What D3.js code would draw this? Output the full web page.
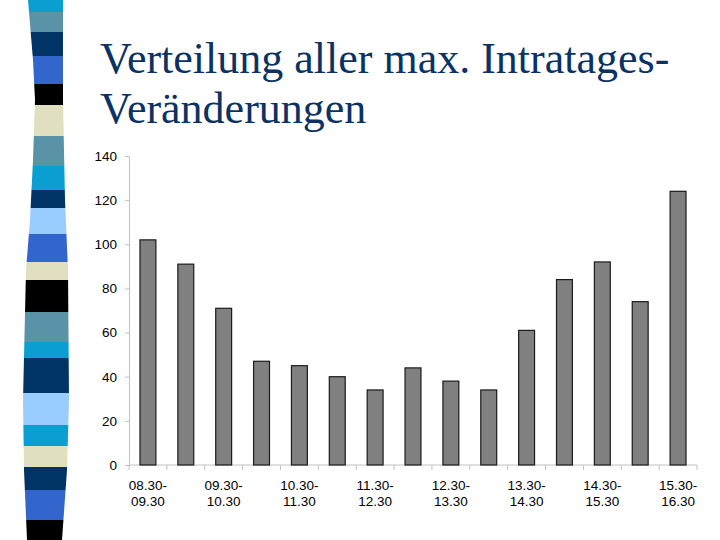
<!DOCTYPE html>
<html>
<head>
<meta charset="utf-8">
<script src="https://cdn.jsdelivr.net/npm/d3@7"></script>
<style>
  html, body { margin: 0; padding: 0; background: #fff; }
  svg { display: block; }
</style>
</head>
<body>
<svg id="chart" width="720" height="540"></svg>
<script>
// ---- data ----
const categories = [
  "08.30-09.30", "09.00-10.00", "09.30-10.30", "10.00-11.00", "10.30-11.30",
  "11.00-12.00", "11.30-12.30", "12.00-13.00", "12.30-13.30", "13.00-14.00",
  "13.30-14.30", "14.00-15.00", "14.30-15.30", "15.00-16.00", "15.30-16.30"
];
const values = [102, 91, 71, 47, 45, 40, 34, 44, 38, 34, 61, 84, 92, 74, 124];
const yTicks = [0, 20, 40, 60, 80, 100, 120, 140];
const titleLines = ["Verteilung aller max. Intratages-", "Veränderungen"];

// decorative strip colours (top to bottom)
const stripColors = ["#0a9fd0", "#5a93a8", "#003366", "#3366cc", "#000000", "#e0dfc0",
  "#5a93a8", "#0a9fd0", "#003366", "#99ccff", "#3366cc", "#e0dfc0", "#000000",
  "#5a93a8", "#0a9fd0", "#003366", "#99ccff", "#0a9fd0", "#e0dfc0", "#003366",
  "#3366cc", "#000000"];
const stripBreaks = [0, 12, 32, 56, 84, 105, 136, 166, 190, 208, 234, 262, 280,
  312, 342, 358, 393, 425, 446, 467, 490, 520, 540];

const svg = d3.select("#chart");

// ---- decorative strip ----
const leftEdge = [[28,0],[33,60],[35,100],[33,160],[30,220],[26,270],[23,400],[24,470],[27,540]];
const rightEdge = [[63,0],[63,100],[65,200],[68,270],[69,400],[67,470],[62,540]];
const outline = leftEdge.concat(rightEdge.slice().reverse());
svg.append("clipPath").attr("id", "stripClip")
  .append("path")
  .attr("d", d3.line().curve(d3.curveLinearClosed)(outline));
svg.append("g").attr("clip-path", "url(#stripClip)")
  .selectAll("rect").data(stripColors).join("rect")
  .attr("x", 0).attr("width", 80)
  .attr("y", (d, i) => stripBreaks[i])
  .attr("height", (d, i) => stripBreaks[i + 1] - stripBreaks[i])
  .attr("fill", d => d);

// ---- title ----
const title = svg.append("text")
  .attr("font-family", "'Liberation Serif', 'Times New Roman', serif")
  .attr("font-size", 44)
  .attr("fill", "#0b3264");
titleLines.forEach((t, i) => {
  title.append("tspan").attr("x", 100).attr("y", 73 + i * 50).text(t);
});

// ---- scales ----
const x = d3.scaleBand().domain(categories).range([129, 697])
  .paddingInner(0.58).paddingOuter(0.29);
const y = d3.scaleLinear().domain([0, 140]).range([465, 156]);

const axisColor = "#c2c2c2";

// y axis
const yAxis = svg.append("g").attr("transform", "translate(129,0)")
  .call(d3.axisLeft(y).tickValues(yTicks).tickSize(4).tickPadding(8));
yAxis.select(".domain").attr("stroke", axisColor);
yAxis.selectAll(".tick line").attr("stroke", axisColor);
yAxis.selectAll(".tick text")
  .attr("font-family", "'Liberation Sans', Arial, sans-serif")
  .attr("font-size", 13.5).attr("fill", "#000");

// x axis baseline
svg.append("line")
  .attr("x1", x.range()[0]).attr("x2", x.range()[1])
  .attr("y1", y(0)).attr("y2", y(0))
  .attr("stroke", axisColor);

// x tick marks at category boundaries
const boundaries = categories.map(c => x(c) + x.bandwidth() / 2 - x.step() / 2)
  .concat([x.range()[1]]);
svg.append("g").selectAll("line").data(boundaries).join("line")
  .attr("x1", d => d).attr("x2", d => d)
  .attr("y1", y(0)).attr("y2", y(0) + 5)
  .attr("stroke", axisColor);

// bars
svg.append("g").selectAll("rect").data(values).join("rect")
  .attr("x", (d, i) => x(categories[i]))
  .attr("width", x.bandwidth())
  .attr("y", d => y(d))
  .attr("height", d => y(0) - y(d))
  .attr("fill", "#808080")
  .attr("stroke", "#1a1a1a")
  .attr("stroke-width", 1.2);

// x labels (every second category)
const xl = svg.append("g")
  .attr("font-family", "'Liberation Sans', Arial, sans-serif")
  .attr("font-size", 13.5).attr("fill", "#000").attr("text-anchor", "middle");
categories.forEach((c, i) => {
  if (i % 2 !== 0) return;
  const parts = c.split("-");
  const cx = x(c) + x.bandwidth() / 2;
  const t = xl.append("text");
  t.append("tspan").attr("x", cx).attr("y", 490).text(parts[0] + "-");
  t.append("tspan").attr("x", cx).attr("y", 506).text(parts[1]);
});
</script>
</body>
</html>
